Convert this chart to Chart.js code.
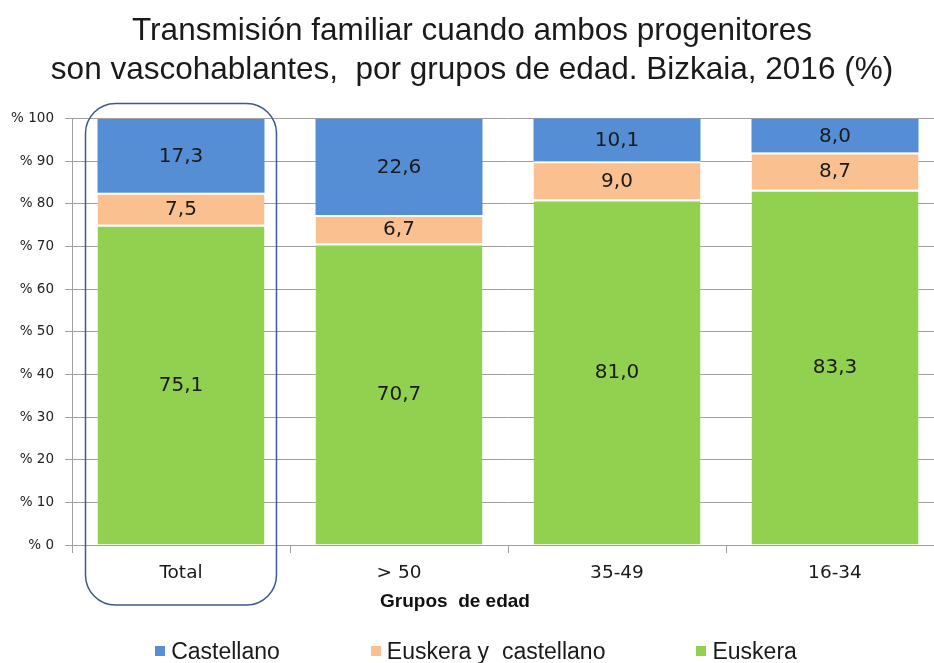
<!DOCTYPE html>
<html>
<head>
<meta charset="utf-8">
<script src="https://cdn.jsdelivr.net/npm/chart.js@4.4.1/dist/chart.umd.min.js"></script>
<style>
  html, body { margin: 0; padding: 0; background: #fff; overflow: hidden; }
  #wrap { position: relative; width: 950px; height: 663px; }
  #legend {
    position: absolute; left: 0; top: 638px; width: 952px;
    display: flex; justify-content: center; gap: 91px;
    font: 23px "Liberation Sans", Arial, sans-serif; line-height: 26px; color: #1a1a1a;
  }
  #legend span.item { display: flex; align-items: center; white-space: pre; }
  #legend span.box { display: inline-block; width: 10px; height: 10px; margin-right: 6px; }
</style>
</head>
<body>
<div id="wrap">
  <canvas id="chart"></canvas>
  <div id="legend"></div>
</div>
<script>
const categories = ['Total', '> 50', '35-49', '16-34'];
const euskera = [75.1, 70.7, 81.0, 83.3];
const euskeraCastellano = [7.5, 6.7, 9.0, 8.7];
const castellano = [17.3, 22.6, 10.1, 8.0];
const yTicks = [0, 10, 20, 30, 40, 50, 60, 70, 80, 90, 100];

const GRID = '#a0a0a0';

// etiquetas de valor dentro de cada tramo
const valueLabels = {
    id: 'valueLabels',
    afterDatasetsDraw(chart) {
        const ctx = chart.ctx;
        ctx.save();
        ctx.font = '20px "DejaVu Sans"';
        ctx.fillStyle = '#1a1a1a';
        ctx.textAlign = 'center';
        ctx.textBaseline = 'middle';
        chart.data.datasets.forEach((ds, i) => {
            chart.getDatasetMeta(i).data.forEach((bar, j) => {
                const txt = ds.data[j].toFixed(1).replace('.', ',');
                ctx.fillText(txt, bar.x, (bar.y + bar.base) / 2 + 1);
            });
        });
        ctx.restore();
    }
};

// recuadro redondeado de "Total" y titulo del eje
const extras = {
    id: 'extras',
    afterDraw(chart) {
        const ctx = chart.ctx;
        const x = chart.scales.x, y = chart.scales.y;
        const bar = chart.getDatasetMeta(0).data[0];
        const left = x.getPixelForValue(0) - bar.width / 2 - 12;
        const right = x.getPixelForValue(0) + bar.width / 2 + 12;
        const top = y.getPixelForValue(100) - 15;
        const bottom = y.getPixelForValue(0) + 60;
        ctx.save();
        ctx.strokeStyle = '#3d5a8a';
        ctx.lineWidth = 1.5;
        ctx.beginPath();
        ctx.roundRect(left, top, right - left, bottom - top, 30);
        ctx.stroke();

        ctx.font = 'bold 19px "Liberation Sans"';
        ctx.fillStyle = '#111';
        ctx.textAlign = 'center';
        ctx.textBaseline = 'middle';
        ctx.fillText('Grupos  de edad', chart.width / 2 - 20, y.getPixelForValue(0) + 57);
        ctx.restore();
    }
};

// leyenda en HTML (el espaciado entre elementos es muy ancho)
const htmlLegend = {
    id: 'htmlLegend',
    afterUpdate(chart) {
        const box = document.getElementById('legend');
        box.innerHTML = '';
        chart.data.datasets.slice().reverse().forEach(ds => {
            const item = document.createElement('span');
            item.className = 'item';
            const sw = document.createElement('span');
            sw.className = 'box';
            sw.style.background = ds.backgroundColor;
            item.appendChild(sw);
            item.appendChild(document.createTextNode(ds.label));
            box.appendChild(item);
        });
    }
};

new Chart(document.getElementById('chart'), {
    type: 'bar',
    data: {
        labels: categories,
        datasets: [
            {
                label: 'Euskera',
                data: euskera,
                backgroundColor: '#92D050',
                borderColor: '#ffffff',
                borderWidth: { top: 2, right: 0, bottom: 0, left: 0 },
                borderSkipped: false
            },
            {
                label: 'Euskera y  castellano',
                data: euskeraCastellano,
                backgroundColor: '#FAC090',
                borderColor: '#ffffff',
                borderWidth: { top: 2, right: 0, bottom: 0, left: 0 },
                borderSkipped: false
            },
            {
                label: 'Castellano',
                data: castellano,
                backgroundColor: '#558ED5',
                borderWidth: 0
            }
        ]
    },
    options: {
        responsive: true,
        maintainAspectRatio: false,
        animation: false,
        layout: { padding: { left: 0, right: 6, top: 0, bottom: 78 } },
        datasets: {
            bar: { barPercentage: 0.766, categoryPercentage: 1 }
        },
        scales: {
            x: {
                stacked: true,
                afterFit: s => { s.height = 40; },
                grid: {
                    drawOnChartArea: false,
                    offset: true,
                    tickLength: 8,
                    color: GRID
                },
                border: { color: GRID, width: 1 },
                ticks: {
                    padding: 9,
                    color: '#1a1a1a',
                    font: { family: '"DejaVu Sans"', size: 18.5 }
                }
            },
            y: {
                stacked: true,
                min: 0,
                max: 100,
                afterFit: s => { s.width = 72; },
                afterBuildTicks: s => { s.ticks = yTicks.map(v => ({ value: v })); },
                grid: { color: GRID, tickLength: 7 },
                border: { color: GRID, width: 1 },
                ticks: {
                    padding: 11,
                    color: '#222',
                    font: { family: '"DejaVu Sans"', size: 13.5 },
                    callback: v => '% ' + v
                }
            }
        },
        plugins: {
            title: {
                display: true,
                text: ['Transmisión familiar cuando ambos progenitores',
                       'son vascohablantes,  por grupos de edad. Bizkaia, 2016 (%)'],
                color: '#1a1a1a',
                font: { family: '"Liberation Sans"', size: 31.5, weight: 'normal', lineHeight: 1.23 },
                padding: { top: 12, bottom: 29 }
            },
            legend: { display: false },
            tooltip: { enabled: false }
        }
    },
    plugins: [valueLabels, extras, htmlLegend]
});
</script>
</body>
</html>
